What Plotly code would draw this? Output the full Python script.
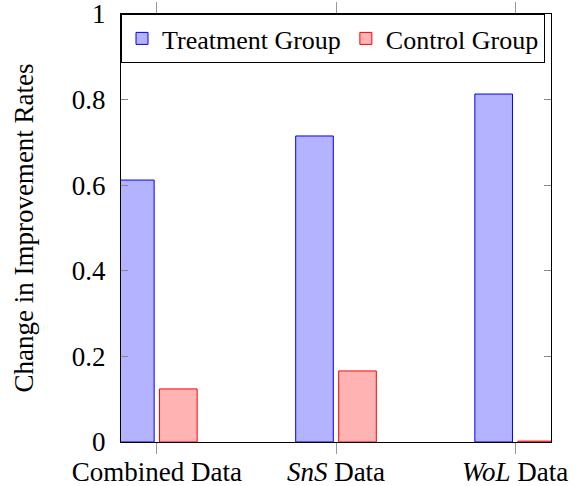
import plotly.graph_objects as go

categories = ["Combined Data", "<i>SnS</i> Data", "<i>WoL</i> Data"]
treatment = [0.612, 0.715, 0.813]
control = [0.124, 0.166, 0.002]
yticks = [0, 0.2, 0.4, 0.6, 0.8, 1]
yticklabels = ["0", "0.2", "0.4", "0.6", "0.8", "1"]

FONT = "Liberation Serif"
FS = 27
xpos = list(range(len(categories)))

fig = go.Figure()
fig.add_trace(go.Bar(
    x=xpos, y=treatment, name="Treatment Group",
    width=0.21, offset=-0.225,
    marker=dict(color="#b3b3ff", line=dict(color="#0000ff", width=1)),
))
fig.add_trace(go.Bar(
    x=xpos, y=control, name="Control Group",
    width=0.21, offset=0.015,
    marker=dict(color="#ffb3b3", line=dict(color="#ff0000", width=1)),
))

fig.update_layout(
    width=575, height=486,
    margin=dict(l=121, r=24, t=14, b=44, autoexpand=False),
    plot_bgcolor="white", paper_bgcolor="white",
    font=dict(family=FONT, size=FS, color="black"),
    barmode="overlay",
    showlegend=True,
    legend=dict(
        orientation="h", x=0, y=1, xanchor="left", yanchor="top",
        bordercolor="black", borderwidth=1, bgcolor="white",
        font=dict(family=FONT, size=26),
        itemwidth=30, tracegroupgap=0, traceorder="normal",
    ),
    xaxis=dict(
        range=[-0.2, 2.2], tickvals=xpos, ticktext=categories,
        showgrid=False, zeroline=False, automargin=False,
        showline=True, linecolor="black", linewidth=1, mirror="ticks",
        ticks="outside", ticklen=11, tickcolor="#999999",
        tickfont=dict(family=FONT, size=FS),
        ticklabelstandoff=-5, ticklabeloverflow="allow",
    ),
    yaxis=dict(
        range=[0, 1], tickvals=yticks, ticktext=yticklabels,
        showgrid=False, zeroline=False, automargin=False,
        showline=True, linecolor="black", linewidth=1, mirror="ticks",
        ticks="inside", ticklen=7, tickcolor="#888888",
        tickfont=dict(family=FONT, size=FS),
        ticklabelstandoff=9, ticklabeloverflow="allow",
        title=dict(text="Change in Improvement Rates", font=dict(family=FONT, size=FS), standoff=30),
    ),
)

fig.write_html("out.html", config={"displayModeBar": False},
               post_script="document.body.style.margin='0';")
